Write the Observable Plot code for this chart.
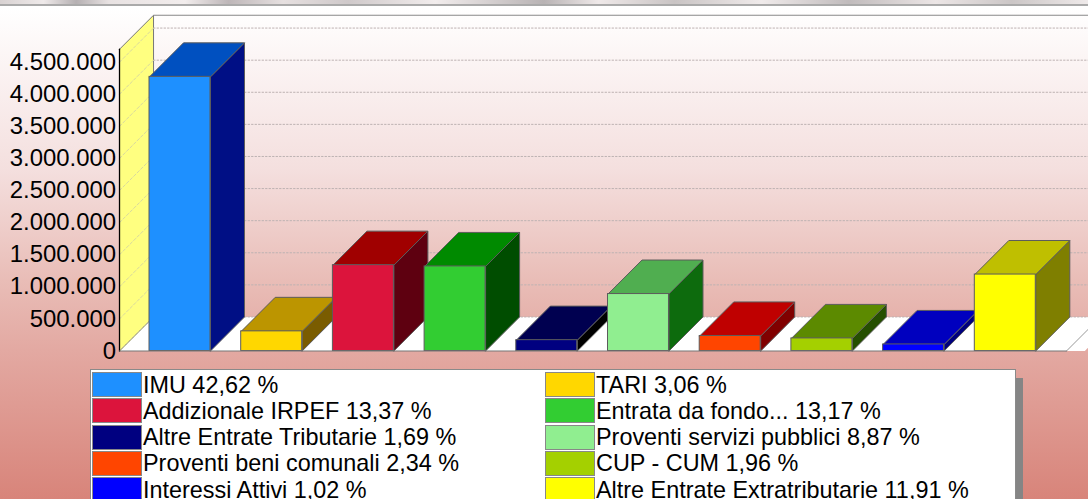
<!DOCTYPE html>
<html><head><meta charset="utf-8">
<script src="https://cdn.jsdelivr.net/npm/d3@7"></script>
<script src="https://cdn.jsdelivr.net/npm/@observablehq/plot@0.6"></script>
<style>
html,body{margin:0;padding:0;width:1088px;height:499px;overflow:hidden}
body{position:relative;background:linear-gradient(180deg,#ffffff 8px,#f4dfde 170px,#e9bdb7 280px,#e3a9a2 350px,#d8847a 499px);font-family:"Liberation Sans",Arial,sans-serif}
#strip{height:4px;background:linear-gradient(90deg,#d8d2d2,#efeaea 4%,#b5b0b2 7%,#e8e2e2 10%,#f2eded 17%,#bdb6b8 21%,#e6e0e0 26%,#cfc9ca 32%,#f2eded 40%,#b8b3b4 50%,#efe9e9 55%,#c9c4c4 62%,#f0ebeb 70%,#c0bbbc 78%,#ece6e6 86%,#cbc6c6 93%,#efeaea);border-bottom:2px solid #aaa;position:absolute;left:0;right:0;top:0}
#chart{position:absolute;left:0;top:0}
#chart svg{overflow:hidden;background:none;display:block}
#legend{position:absolute;left:91px;top:370px;width:924px;height:140px;background:#fff;box-shadow:8px 8px 0 #858585;outline:1px solid #8a8a8a;}
.row{position:absolute;height:26px;color:#000;font-size:23.4px;line-height:26px;white-space:nowrap}
.sw{position:absolute;left:0;top:2px;width:48px;height:23px;border:1px solid #888;box-sizing:content-box}
.lb{position:absolute;left:51px;top:1.5px}
</style></head>
<body>
<div id="chart"></div>
<div id="legend"></div>
<div id="strip"></div>
<script>
const categories = ["IMU","TARI","Addizionale IRPEF","Entrata da fondo...","Altre Entrate Tributarie","Proventi servizi pubblici","Proventi beni comunali","CUP - CUM","Interessi Attivi","Altre Entrate Extratributarie"];
const values = [4270000,306000,1337000,1317000,169000,887000,234000,196000,102000,1191000];
const percents = ["42,62","3,06","13,37","13,17","1,69","8,87","2,34","1,96","1,02","11,91"];
const frontColors = ["#1e90ff","#ffd700","#dc143c","#32cd32","#000080","#90ee90","#ff4500","#a4d000","#0000ff","#ffff00"];
const topColors = ["#0050c0","#bc9500","#a00000","#008a00","#000050","#50ae50","#bf0000","#5c8a00","#0000bf","#bfbf00"];
const sideColors = ["#000f85","#7a5c00","#5e0010","#004d00","#000000","#0d6b0d","#800000","#254f00","#00007f","#7f7f00"];
const ticks = [0,500000,1000000,1500000,2000000,2500000,3000000,3500000,4000000,4500000];

const barW = 0.665, depthX = 0.371, depthV = 530000, wallTop = 4700000, wallX = -0.327, floorEnd = 10.0;
const fmt = d => d3.format(",")(d).replace(/,/g,".");

const bars = categories.map((c,i)=>({i,v:values[i],c}));

const floor = [[wallX,0],[wallX+depthX,depthV],[floorEnd+depthX+0.2,depthV],[floorEnd+0.2,0]];
const rightFloor = [[floorEnd,0],[floorEnd+depthX,depthV]];
const wall = [[wallX,0],[wallX+depthX,depthV],[wallX+depthX,wallTop+depthV],[wallX,wallTop]];

const line = (pts,o) => Plot.line(pts,{x:d=>d[0],y:d=>d[1],...o});

const barMarks = bars.flatMap(b=>{
  const x0=b.i, x1=b.i+barW, v=b.v;
  const faces=[
    {f:sideColors[b.i],p:[[x1,0],[x1+depthX,depthV],[x1+depthX,v+depthV],[x1,v]]},
    {f:topColors[b.i],p:[[x0,v],[x1,v],[x1+depthX,v+depthV],[x0+depthX,v+depthV]]}
  ];
  return [
    ...faces.map(o=>line(o.p.concat([o.p[0]]),{fill:o.f,stroke:"#5c5c5c",strokeWidth:1})),
    Plot.rect([b],{x1:d=>d.i,x2:d=>d.i+barW,y1:0,y2:d=>d.v,fill:frontColors[b.i],stroke:"#5c5c5c",strokeWidth:1})
  ];
});

const plot = Plot.plot({
  width:1088,height:365,
  marginLeft:119,marginRight:0,marginTop:0,marginBottom:15,
  style:{fontFamily:"'Liberation Sans',Arial,sans-serif",background:"none"},
  x:{type:"linear",domain:[0,10],range:[149,1066],axis:null},
  y:{type:"linear",domain:[0,5000000],range:[350.5,350.5-321]},
  color:{type:"identity"},
  marks:[
    Plot.axisY({ticks,tickFormat:fmt,tickSize:0,tickPadding:3.5,fontSize:23.9,label:null,fill:"#000"}),
    line(floor.concat([floor[0]]),{fill:"#fff",stroke:"none"}),
    line(wall.concat([wall[0]]),{fill:"#ffff80",stroke:"#777",strokeWidth:1}),
    ...ticks.map(t=>line([[wallX+depthX,t+depthV],[12,t+depthV]],{stroke:"#bdb2b2",strokeWidth:1,strokeDasharray:"1.5 2"})),
    ...ticks.map(t=>line([[wallX,t],[wallX+depthX,t+depthV]],{stroke:"#d8d8a0",strokeWidth:1,strokeDasharray:"3 2"})),
    line([[wallX+depthX,wallTop+depthV],[12,wallTop+depthV]],{stroke:"#888",strokeWidth:1.2}),
    line([[wallX,0],[wallX,wallTop]],{stroke:"#000",strokeWidth:1.3}),
    line(rightFloor,{stroke:"#999",strokeWidth:1}),
    ...barMarks,
    line([[wallX,0],[floorEnd,0]],{stroke:"#777",strokeWidth:1.2})
  ]
});
document.getElementById("chart").appendChild(plot);

const legend = document.getElementById("legend");
categories.forEach((c,i)=>{
  const col=i%2, r=Math.floor(i/2);
  const row=document.createElement("div");
  row.className="row";
  row.style.left=(col?454:1)+"px";
  row.style.top=(r*26.3)+"px";
  const sw=document.createElement("div"); sw.className="sw"; sw.style.background=frontColors[i];
  const lb=document.createElement("div"); lb.className="lb"; lb.textContent=`${c} ${percents[i]} %`;
  row.append(sw,lb); legend.appendChild(row);
});
</script>
</body></html>
